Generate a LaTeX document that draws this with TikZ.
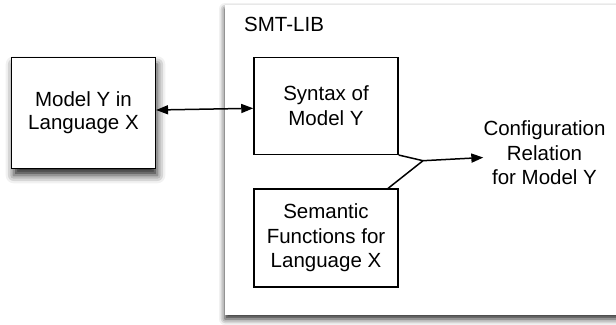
\documentclass[tikz,border=0pt]{standalone}
\usepackage{fontspec}
\setmainfont{Liberation Sans}
\usetikzlibrary{arrows.meta,shadows.blur}
\begin{document}
\begin{tikzpicture}[x=1bp,y=-1bp,
  every node/.style={font=\fontsize{20.5bp}{24.5bp}\selectfont, align=center},
  box/.style={draw=black, line width=1.5bp, fill=white, inner sep=0pt},
  conn/.style={line width=1.5bp, black},
  tip/.style={-{Triangle[length=12bp,width=9bp]}},
  dtip/.style={{Triangle[length=12bp,width=9bp]}-{Triangle[length=12bp,width=9bp]}}
]
\useasboundingbox (0,0) rectangle (616,324);
% panel
\fill[white, blur shadow={shadow xshift=0bp, shadow yshift=-4bp, shadow blur radius=6bp, shadow opacity=85}]
  (225,5) rectangle (640,315);
\node[anchor=base west, inner sep=0pt] (smt) at (244,31.7) {SMT-LIB};
% boxes
\node[box, minimum width=143.6bp, minimum height=111bp,
  blur shadow={shadow xshift=2bp, shadow yshift=-7bp, shadow blur radius=8bp, shadow opacity=85}]
  (model) at (83.5,112.8) {Model Y in\\[-2bp]Language X};
\node[box, minimum width=144bp, minimum height=97bp] (syntax) at (326,105.8) {Syntax of\\Model Y};
\node[box, minimum width=144bp, minimum height=97.7bp] (sem) at (326,238) {Semantic\\Functions for\\Language X};
\node[inner sep=0pt] (conf) at (544.5,153) {Configuration\\Relation\\for Model Y};
% connectors
\draw[conn, dtip] ([yshift=2.8bp]model.east) -- ([yshift=-2.5bp]syntax.west);
\coordinate (j) at (423,160.7);
\draw[conn] (syntax.south east) -- (j);
\draw[conn] ([xshift=62bp]sem.north) -- (j);
\draw[conn, tip] (j) -- ([yshift=-4.5bp]conf.west);
\end{tikzpicture}
\end{document}
